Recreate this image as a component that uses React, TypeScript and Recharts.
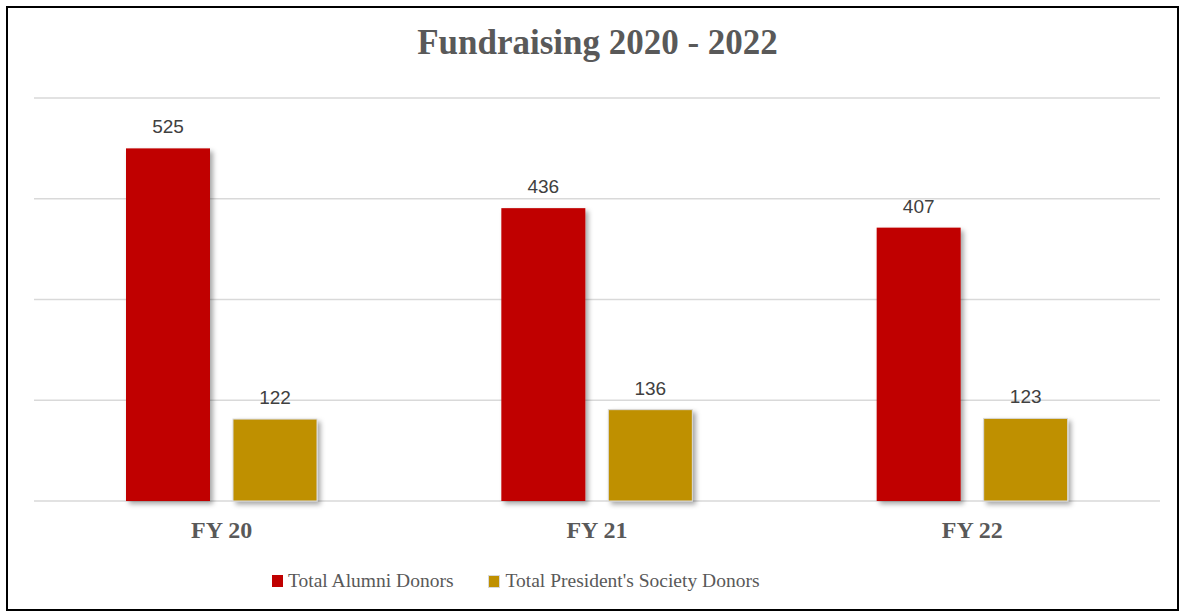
import { Bar, BarChart, CartesianGrid, LabelList, XAxis, YAxis } from 'recharts';

const categories = ['FY 20', 'FY 21', 'FY 22'];
const alumniDonors = [525, 436, 407];
const presidentsSocietyDonors = [122, 136, 123];
const yTicks = [0, 150, 300, 450, 600];

const data = categories.map((name, i) => ({
  name,
  alumni: alumniDonors[i],
  society: presidentsSocietyDonors[i],
}));

const serif = '"Liberation Serif", "DejaVu Serif", serif';
const sans = '"Liberation Sans", Arial, sans-serif';

function ShadowRect(props: any) {
  const { x, y, width, height, fill, stroke } = props;
  return (
    <rect
      x={x}
      y={y}
      width={width}
      height={height}
      fill={fill}
      stroke={stroke}
      strokeWidth={stroke ? 1 : 0}
      filter="url(#barShadow)"
    />
  );
}

function CategoryTick(props: any) {
  const { x, y, payload } = props;
  return (
    <text
      x={x}
      y={y + 29}
      textAnchor="middle"
      fill="#595959"
      fontFamily={serif}
      fontWeight="bold"
      fontSize={24}
    >
      {payload.value}
    </text>
  );
}

export default function App() {
  return (
    <div
      style={{
        position: 'absolute',
        left: 0,
        top: 0,
        width: 1183,
        height: 615,
        background: '#fff',
      }}
    >
      <svg width={0} height={0} style={{ position: 'absolute' }}>
        <defs>
          <filter id="barShadow" x="-20%" y="-20%" width="150%" height="150%">
            <feDropShadow dx={3} dy={3} stdDeviation={2.5} floodColor="#000" floodOpacity={0.35} />
          </filter>
        </defs>
      </svg>
      <div
        style={{
          position: 'absolute',
          left: 6,
          top: 6,
          width: 1173,
          height: 605,
          border: '2px solid #000',
          boxSizing: 'border-box',
        }}
      />
      <div
        style={{
          position: 'absolute',
          left: 0,
          top: 23,
          width: 1195,
          textAlign: 'center',
          fontFamily: serif,
          fontWeight: 'bold',
          fontSize: 35,
          color: '#595959',
        }}
      >
        Fundraising 2020 - 2022
      </div>
      <BarChart
        width={1183}
        height={615}
        data={data}
        margin={{ top: 98, left: 34, right: 23, bottom: 84 }}
        barSize={84}
        barGap={23}
        style={{ position: 'absolute', left: 0, top: 0 }}
      >
        <CartesianGrid vertical={false} stroke="#d9d9d9" strokeWidth={1.5} />
        <YAxis hide domain={[0, 600]} ticks={yTicks} />
        <XAxis
          dataKey="name"
          axisLine={false}
          tickLine={false}
          height={30}
          tick={<CategoryTick />}
        />
        <Bar dataKey="alumni" fill="#c00000" shape={<ShadowRect />} isAnimationActive={false}>
          <LabelList
            dataKey="alumni"
            position="top"
            offset={15}
            fill="#404040"
            fontSize={19}
            fontFamily={sans}
          />
        </Bar>
        <Bar
          dataKey="society"
          fill="#bf9000"
          shape={<ShadowRect stroke="#d9d9d9" />}
          isAnimationActive={false}
        >
          <LabelList
            dataKey="society"
            position="top"
            offset={15}
            fill="#404040"
            fontSize={19}
            fontFamily={sans}
          />
        </Bar>
      </BarChart>
      <div
        style={{
          position: 'absolute',
          left: 272,
          top: 570,
          display: 'flex',
          alignItems: 'center',
          fontFamily: serif,
          fontSize: 19.5,
          color: '#595959',
        }}
      >
        <span style={{ width: 11, height: 12, background: '#c00000', display: 'inline-block', marginRight: 5 }} />
        <span style={{ marginRight: 35 }}>Total Alumni Donors</span>
        <span
          style={{
            width: 10,
            height: 11,
            background: '#bf9000',
            border: '1px solid #d9d9d9',
            display: 'inline-block',
            marginRight: 5,
          }}
        />
        <span>Total President's Society Donors</span>
      </div>
    </div>
  );
}
